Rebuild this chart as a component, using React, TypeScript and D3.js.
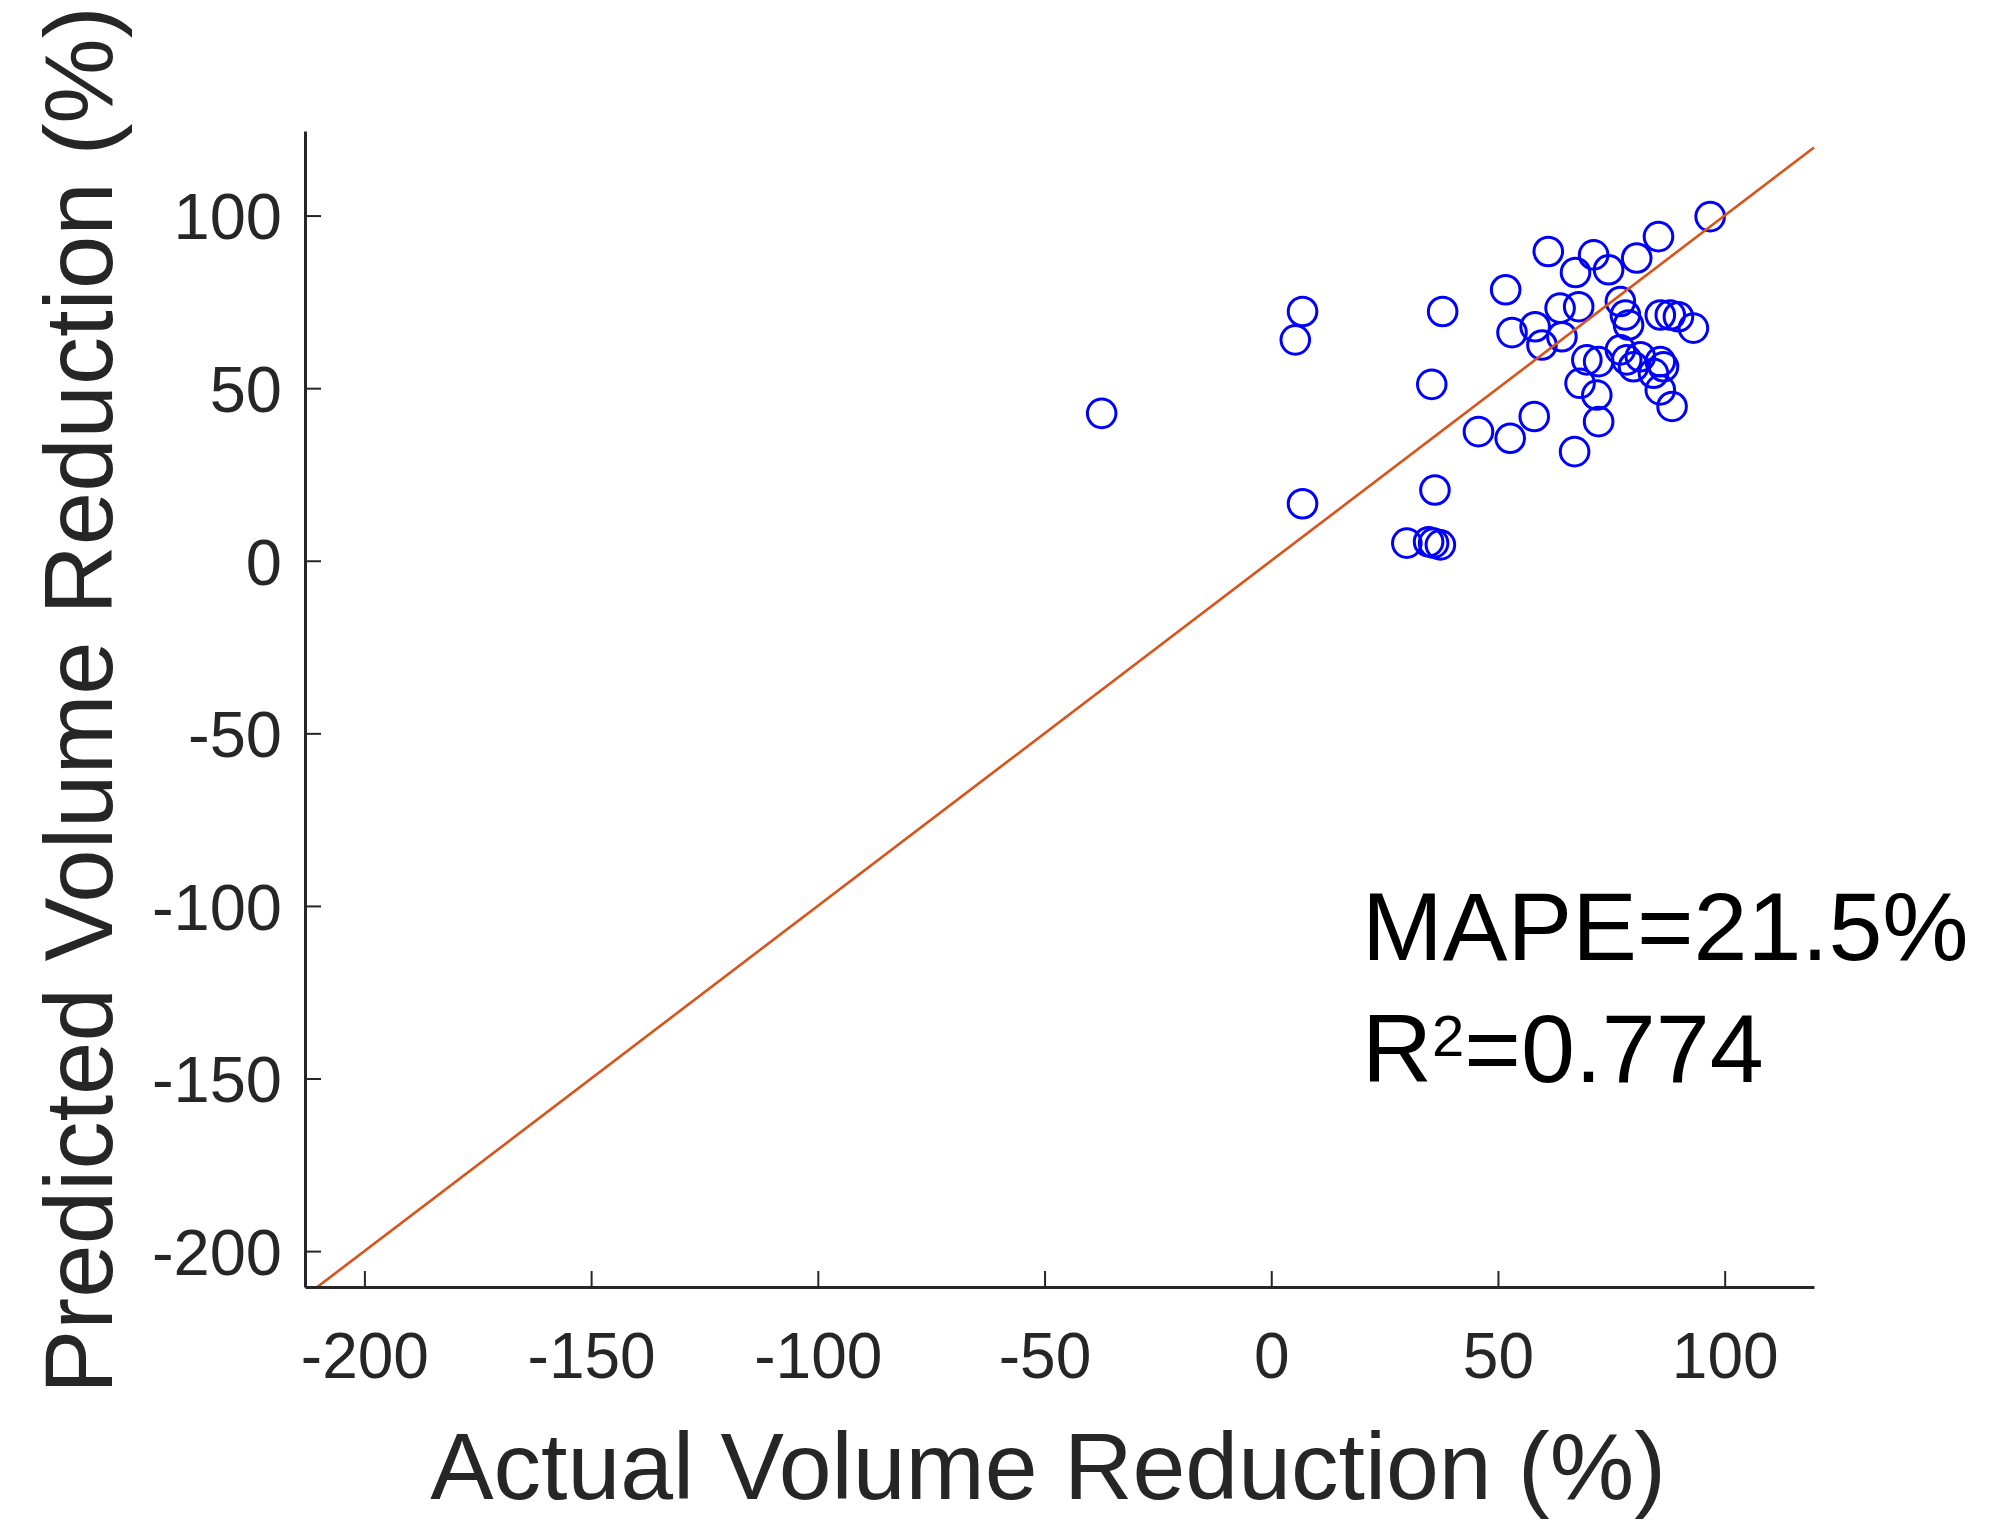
import React, { useEffect, useRef } from "react";
import * as d3 from "d3";

// ---- data ----
const actual: number[] = [
  -37.4, 6.9, 5.3, 6.9, 61.1, 67.1, 51.7, 37.8, 35.4, 53.1,
  58.2, 59.7, 63.7, 64.1, 67.8, 45.7, 52.7, 58.0, 66.9, 36.1,
  29.9, 34.7, 35.8, 37.3, 96.8, 85.4, 71.1, 80.6, 74.4, 77.0,
  78.1, 78.8, 85.8, 88.0, 89.8, 93.1, 69.6, 72.2, 68.1, 71.8,
  77.0, 78.4, 79.9, 81.4, 85.8, 86.5, 84.3, 85.8, 88.4, 72.2,
];
const predicted: number[] = [
  42.7, 72.2, 64.0, 16.5, 89.6, 83.5, 78.5, 72.2, 51.1, 66.1,
  67.8, 62.5, 73.2, 64.9, 73.6, 37.4, 35.5, 41.8, 31.6, 20.5,
  5.1, 5.5, 5.1, 4.6, 99.7, 93.9, 88.6, 87.7, 84.3, 75.1,
  71.2, 68.3, 71.2, 71.2, 70.7, 67.4, 58.2, 57.7, 51.4, 48.0,
  61.1, 58.2, 56.2, 59.1, 57.7, 56.2, 54.3, 49.5, 44.7, 40.3,
];
const xTicks: number[] = [-200, -150, -100, -50, 0, 50, 100];
const yTicks: number[] = [-200, -150, -100, -50, 0, 50, 100];
const xDomain: [number, number] = [-213.1, 119.7];
const yDomain: [number, number] = [-210.4, 124.5];
const xLabel = "Actual Volume Reduction (%)";
const yLabel = "Predicted Volume Reduction (%)";
const mapeText = "MAPE=21.5%";
const r2Value = "=0.774";

const W = 1992;
const H = 1523;
const FONT = "'Liberation Sans', Arial, Helvetica, sans-serif";
const AXIS_COLOR = "#262626";

export default function App() {
  const ref = useRef<SVGSVGElement | null>(null);

  useEffect(() => {
    const svg = d3.select(ref.current);
    svg.selectAll("*").remove();

    const x = d3.scaleLinear().domain(xDomain).range([305, 1814]);
    const y = d3.scaleLinear().domain(yDomain).range([1287, 131]);

    // scatter
    const pts = actual.map((a, i) => ({ a, p: predicted[i] }));
    svg
      .append("g")
      .selectAll("circle")
      .data(pts)
      .join("circle")
      .attr("cx", (d) => x(d.a))
      .attr("cy", (d) => y(d.p))
      .attr("r", 14.3)
      .attr("fill", "none")
      .attr("stroke", "#0000FF")
      .attr("stroke-width", 3);

    // identity line
    const lo = Math.max(xDomain[0], yDomain[0]);
    const hi = Math.min(xDomain[1], yDomain[1]);
    const line = d3
      .line<number>()
      .x((v) => x(v))
      .y((v) => y(v));
    svg
      .append("path")
      .attr("d", line([lo, hi]))
      .attr("fill", "none")
      .attr("stroke", "#D95319")
      .attr("stroke-width", 2.6);

    // x axis
    const gx = svg
      .append("g")
      .attr("transform", `translate(0,${y(yDomain[0])})`)
      .call(
        d3
          .axisBottom(x)
          .tickValues(xTicks)
          .tickSizeInner(-16)
          .tickSizeOuter(0)
          .tickPadding(0)
          .tickFormat((d) => String(d))
      );
    gx.select(".domain").attr("stroke", AXIS_COLOR).attr("stroke-width", 3);
    gx.selectAll(".tick line").attr("stroke", AXIS_COLOR).attr("stroke-width", 2);
    gx.selectAll(".tick text")
      .attr("y", 91)
      .attr("dy", null)
      .attr("fill", AXIS_COLOR)
      .style("font-family", FONT)
      .style("font-size", "64px");

    // y axis
    const gy = svg
      .append("g")
      .attr("transform", `translate(${x(xDomain[0])},0)`)
      .call(
        d3
          .axisLeft(y)
          .tickValues(yTicks)
          .tickSizeInner(-16)
          .tickSizeOuter(0)
          .tickPadding(0)
          .tickFormat((d) => String(d))
      );
    gy.select(".domain").attr("stroke", AXIS_COLOR).attr("stroke-width", 3);
    gy.selectAll(".tick line").attr("stroke", AXIS_COLOR).attr("stroke-width", 2);
    gy.selectAll(".tick text")
      .attr("x", -23)
      .attr("dy", "0.36em")
      .attr("fill", AXIS_COLOR)
      .style("font-family", FONT)
      .style("font-size", "65px");

    // axis labels
    svg
      .append("text")
      .attr("x", 1048)
      .attr("y", 1499)
      .attr("text-anchor", "middle")
      .attr("fill", AXIS_COLOR)
      .style("font-family", FONT)
      .style("font-size", "95px")
      .text(xLabel);

    svg
      .append("text")
      .attr("transform", "translate(112,700) rotate(-90)")
      .attr("text-anchor", "middle")
      .attr("fill", AXIS_COLOR)
      .style("font-family", FONT)
      .style("font-size", "96px")
      .text(yLabel);

    // annotations
    svg
      .append("text")
      .attr("x", 1362)
      .attr("y", 960)
      .attr("fill", "#000")
      .style("font-family", FONT)
      .style("font-size", "97px")
      .text(mapeText);

    const r2 = svg
      .append("text")
      .attr("x", 1362)
      .attr("y", 1082)
      .attr("fill", "#000")
      .style("font-family", FONT)
      .style("font-size", "97px");
    r2.append("tspan").text("R");
    r2.append("tspan").attr("dy", -26).style("font-size", "58px").text("2");
    r2.append("tspan").attr("dy", 26).text(r2Value);
  }, []);

  return (
    <svg
      ref={ref}
      width={W}
      height={H}
      style={{ position: "absolute", left: 0, top: 0, background: "#fff" }}
    />
  );
}
